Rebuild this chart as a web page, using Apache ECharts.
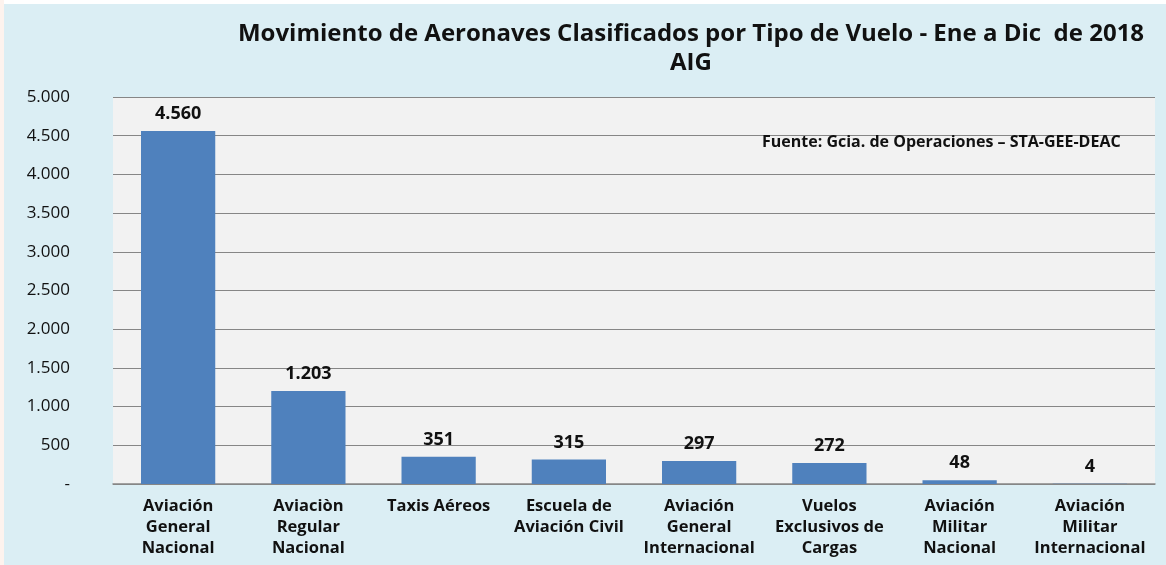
<!DOCTYPE html>
<html>
<head>
<meta charset="utf-8">
<script src="https://cdn.jsdelivr.net/npm/echarts@6/dist/echarts.min.js"></script>
<style>
  html, body { margin: 0; padding: 0; background: #ffffff; }
  #chart { width: 1166px; height: 565px; }
</style>
</head>
<body>
<div id="chart"></div>
<script>
const categories = [
  'Aviación\nGeneral\nNacional',
  'Aviaciòn\nRegular\nNacional',
  'Taxis Aéreos',
  'Escuela de\nAviación Civil',
  'Aviación\nGeneral\nInternacional',
  'Vuelos\nExclusivos de\nCargas',
  'Aviación\nMilitar\nNacional',
  'Aviación\nMilitar\nInternacional'
]
const movimientos = [4560, 1203, 351, 315, 297, 272, 48, 4]
const titleLines = [
  'Movimiento de Aeronaves Clasificados por Tipo de Vuelo - Ene a Dic  de 2018',
  'AIG'
]
const sourceNote = 'Fuente: Gcia. de Operaciones – STA-GEE-DEAC'

const FONT = '"Open Sans", "Liberation Sans", sans-serif'

// miles con punto, cero como guion (formato contable)
function fmt(v) {
  if (v === 0) return '-'
  return String(v).replace(/\B(?=(\d{3})+(?!\d))/g, '.')
}

const chart = echarts.init(document.getElementById('chart'))

chart.setOption({
  backgroundColor: '#dbeef4',
  animation: false,
  title: {
    text: titleLines.join('\n'),
    left: 686,
    top: 15,
    textAlign: 'center',
    textStyle: {
      fontFamily: FONT,
      fontSize: 24,
      fontWeight: 'bold',
      color: '#111111',
      lineHeight: 29
    }
  },
  graphic: [
    { type: 'rect', shape: { x: 0, y: 0, width: 1166, height: 4 }, style: { fill: '#ffffff' }, z: 100 },
    { type: 'rect', shape: { x: 0, y: 0, width: 4, height: 565 }, style: { fill: '#fdf3ee' }, z: 100 },
    {
      type: 'text',
      left: 762,
      top: 134,
      style: {
        text: sourceNote,
        font: 'bold 16px ' + FONT,
        fill: '#111111'
      },
      z: 10
    }
  ],
  grid: {
    left: 113,
    right: 11,
    top: 97,
    bottom: 81,
    show: true,
    backgroundColor: '#f2f2f2',
    borderWidth: 0
  },
  xAxis: {
    type: 'category',
    data: categories,
    axisLine: { lineStyle: { color: '#868686', width: 1.5 } },
    axisTick: { show: false },
    axisLabel: {
      interval: 0,
      margin: 12,
      fontFamily: FONT,
      fontSize: 16.5,
      fontWeight: 'bold',
      color: '#111111',
      lineHeight: 21
    }
  },
  yAxis: {
    type: 'value',
    min: 0,
    max: 5000,
    interval: 500,
    axisLine: { show: false },
    axisTick: { show: false },
    splitLine: { lineStyle: { color: '#868686', width: 1.2 } },
    axisLabel: {
      margin: 43,
      fontFamily: FONT,
      fontSize: 17,
      color: '#111111',
      formatter: fmt
    }
  },
  series: [{
    type: 'bar',
    data: movimientos,
    barWidth: '57%',
    itemStyle: { color: '#4f81bd' },
    label: {
      show: true,
      position: 'top',
      distance: 8,
      fontFamily: FONT,
      fontSize: 18,
      fontWeight: 'bold',
      color: '#111111',
      formatter: p => fmt(p.value)
    }
  }]
})
</script>
</body>
</html>
